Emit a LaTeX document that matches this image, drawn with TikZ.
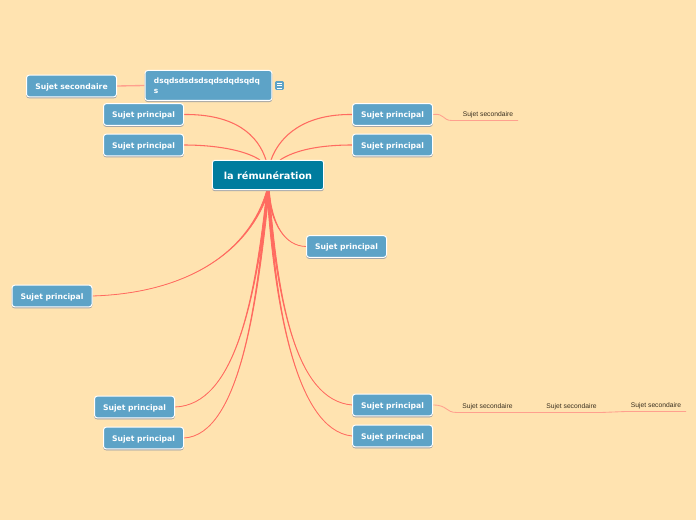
\documentclass[tikz,border=0pt]{standalone}
\usepackage{fontspec}
\setmainfont{DejaVu Sans}
\newfontfamily\secfont{Liberation Sans}
\usetikzlibrary{backgrounds}
\definecolor{bgc}{HTML}{FFE3B0}
\definecolor{boxc}{HTML}{5DA3C7}
\definecolor{mainc}{HTML}{007C9E}
\definecolor{linec}{HTML}{FF6B60}
\definecolor{linel}{HTML}{FFA08E}
\definecolor{textc}{HTML}{3A3020}
\tikzset{
  x=0.75pt,y=-0.75pt,
  basebox/.style={rounded corners=2pt,draw=white,line width=0.75pt,fill=boxc,text=white,font=\fontsize{5.75}{7}\selectfont\bfseries,inner sep=0pt,
    preaction={draw=black!35,fill=black!35,line width=0.5pt,transform canvas={yshift=-0.9pt}}},
  subj/.style={basebox,minimum width=60pt,minimum height=16.2pt,text height=5.2pt,text depth=0.4pt},
  second/.style={basebox,minimum width=67.5pt,minimum height=16.2pt,text height=5.2pt,text depth=0.4pt},
  detail/.style={basebox,text width=81.8pt,minimum height=22.5pt,align=left,inner xsep=6.7pt,font=\fontsize{5.6}{7.2}\selectfont\bfseries},
  rootbox/.style={basebox,fill=mainc,minimum width=83.5pt,minimum height=22pt,text height=7.2pt,text depth=0.3pt,font=\fontsize{7.3}{9}\selectfont\bfseries},
  leaf/.style={text=textc,font=\secfont\fontsize{5.05}{6}\selectfont,inner sep=0pt,minimum width=45pt,minimum height=9pt,text height=3.9pt,text depth=0.3pt},
  conn/.style={draw=linec,fill=linec,line width=0.6pt,line join=round},
  thinconn/.style={draw=linec,line width=0.8pt},
  subconn/.style={draw=linel,line width=0.65pt},
  iconbox/.style={fill=boxc,rounded corners=0.8pt,minimum size=6.5pt,inner sep=0pt},
}
\begin{document}
\begin{tikzpicture}
\useasboundingbox (0,0) rectangle (696,520);
\node[rootbox] (main) at (268,175) {la rémunération};
\node[subj] (sp1) at (143.5,114.5) {Sujet principal};
\node[subj] (sp2) at (143.5,145) {Sujet principal};
\node[second] (ss) at (71.5,86) {Sujet secondaire};
\node[detail] (dsq) at (208.5,85.5) {dsqdsdsdsdsqdsdqdsqdq\\s};
\node[iconbox] (icon) at (279.5,85.5) {};
\node[subj] (r1) at (392.5,114.5) {Sujet principal};
\node[subj] (r2) at (392.5,145) {Sujet principal};
\node[subj] (r3) at (346.5,246.5) {Sujet principal};
\node[subj] (l1) at (52,296) {Sujet principal};
\node[subj] (bl1) at (134.5,407) {Sujet principal};
\node[subj] (bl2) at (143.5,438) {Sujet principal};
\node[subj] (br1) at (392.5,405) {Sujet principal};
\node[subj] (br2) at (392.5,436) {Sujet principal};
\node[leaf,anchor=south] (t0) at (488,120.5) {Sujet secondaire};
\node[leaf,anchor=south] (t1) at (487.5,412.5) {Sujet secondaire};
\node[leaf,anchor=south] (t2) at (571.5,412.5) {Sujet secondaire};
\node[leaf,anchor=south] (t3) at (656,411.5) {Sujet secondaire};
\coordinate (t0a) at (452,120.5);\coordinate (t0b) at (518,120.5);
\coordinate (t1a) at (457,412.5);\coordinate (t1b) at (517,412.5);
\coordinate (t2a) at (542,412.5);\coordinate (t2b) at (601,412.5);
\coordinate (t3a) at (626,411.5);\coordinate (t3b) at (686,411.5);
\draw[white,line width=0.55pt] (277,83)--(282,83) (277,85.5)--(282,85.5) (277,88)--(282,88);
\begin{pgfonlayer}{background}
\fill[bgc] (0,0) rectangle (696,520);
\draw[thinconn] (sp1.east) .. controls (235,114) and (258,135) .. (266,160);
\draw[thinconn] (sp2.east) .. controls (215,145) and (245,150) .. (260,160);
\draw[thinconn] (r1.west) .. controls (305,114) and (280,135) .. (271,160);
\draw[thinconn] (r2.west) .. controls (320,145) and (295,150) .. (280,160);
\path[conn] ([xshift=-0.9pt]main.south) .. controls (272,225) and (285,246) .. (r3.west) .. controls (285,246) and (272,225) .. ([xshift=0.9pt]main.south) -- cycle;
\path[conn] ([xshift=-0.9pt]main.south) .. controls (250,250) and (190,293) .. (l1.east) .. controls (190,293) and (250,250) .. ([xshift=0.9pt]main.south) -- cycle;
\path[conn] ([xshift=-0.9pt]main.south) .. controls (255,300) and (235,405) .. (bl1.east) .. controls (235,405) and (255,300) .. ([xshift=0.9pt]main.south) -- cycle;
\path[conn] ([xshift=-0.9pt]main.south) .. controls (258,300) and (240,435) .. (bl2.east) .. controls (240,435) and (258,300) .. ([xshift=0.9pt]main.south) -- cycle;
\path[conn] ([xshift=-0.9pt]main.south) .. controls (278,300) and (295,400) .. (br1.west) .. controls (295,400) and (278,300) .. ([xshift=0.9pt]main.south) -- cycle;
\path[conn] ([xshift=-0.9pt]main.south) .. controls (274,300) and (295,430) .. (br2.west) .. controls (295,430) and (274,300) .. ([xshift=0.9pt]main.south) -- cycle;
\draw[subconn,line width=1pt] (ss.east) -- (dsq.west);
\draw[subconn] (r1.east) .. controls (445,113) and (442,120.5) .. (t0a) -- (t0b);
\draw[subconn] (br1.east) .. controls (448,405) and (445,412.5) .. (t1a) -- (t1b) -- (t2a) -- (t2b) -- (t3a) -- (t3b);
\end{pgfonlayer}
\end{tikzpicture}
\end{document}
